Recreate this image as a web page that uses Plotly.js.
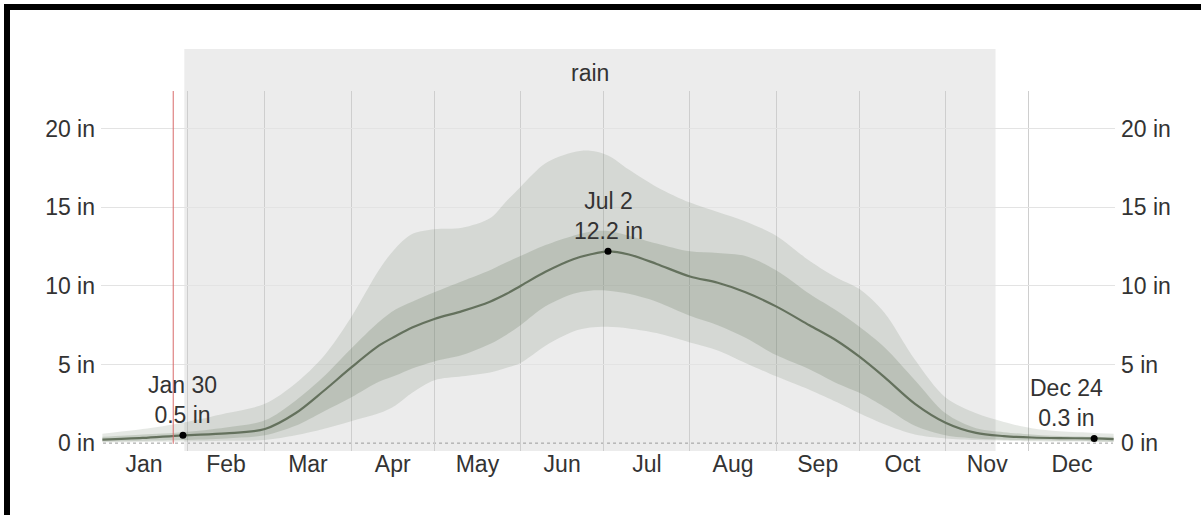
<!DOCTYPE html>
<html>
<head>
<meta charset="utf-8">
<script src="https://cdn.plot.ly/plotly-3.0.1.min.js"></script>
<style>
  html, body { margin: 0; padding: 0; background: #fff; }
  #wrap { position: relative; width: 1201px; height: 515px; overflow: hidden; }
  #chart { width: 1201px; height: 515px; }
  #frame { position: absolute; left: 4px; top: 4px; width: 1197px; height: 511px;
           border-top: 6px solid #000; border-left: 6px solid #000; box-sizing: border-box; pointer-events: none; }
</style>
</head>
<body>
<div id="wrap"><div id="chart"></div><div id="frame"></div></div>
<script>
// Day of year (Jan 1 = 0)
const days = [0.5, 15, 29.5, 45, 59, 70, 80, 90, 100, 106, 112, 120, 130, 140, 146, 151, 160, 170, 176, 182.5,
              190, 200, 212, 222, 232, 243, 255, 265, 273, 282, 293, 304, 315, 325, 335, 345, 357.5, 364.5];
// Average 31-day rainfall (inches)
const meanRain = [0.22, 0.33, 0.5, 0.62, 0.9, 1.9, 3.3, 4.8, 6.2, 6.8, 7.35, 7.9, 8.4, 9.0, 9.5, 10.0, 10.9, 11.7, 12.0, 12.2,
                  12.0, 11.4, 10.6, 10.2, 9.6, 8.7, 7.5, 6.5, 5.5, 4.2, 2.5, 1.3, 0.65, 0.45, 0.36, 0.32, 0.3, 0.25];
const p75 = [0.4, 0.55, 0.7, 1.0, 1.45, 2.7, 4.2, 6.0, 7.7, 8.5, 9.0, 9.6, 10.3, 11.0, 11.5, 11.9, 12.6, 13.2, 13.45, 13.5,
             13.2, 12.7, 12.2, 12.1, 11.9, 11.0, 9.5, 8.4, 7.4, 6.1, 4.0, 1.9, 0.95, 0.7, 0.55, 0.45, 0.4, 0.4];
const p25 = [0.1, 0.15, 0.2, 0.3, 0.5, 1.1, 2.0, 2.9, 3.9, 4.3, 4.75, 5.2, 5.6, 6.3, 6.9, 7.5, 8.7, 9.5, 9.7, 9.7,
             9.5, 9.0, 8.1, 7.5, 6.7, 5.6, 4.7, 3.8, 3.2, 2.3, 1.1, 0.5, 0.3, 0.22, 0.18, 0.15, 0.12, 0.1];
const p90 = [0.6, 0.9, 1.3, 1.9, 2.5, 3.8, 5.5, 8.0, 11.0, 12.4, 13.3, 13.6, 13.7, 14.3, 15.4, 16.3, 17.8, 18.5, 18.6, 18.3,
             17.4, 16.3, 15.3, 14.7, 14.1, 13.2, 11.6, 10.5, 9.8, 8.3, 5.3, 2.9, 1.9, 1.35, 0.95, 0.75, 0.65, 0.6];
const p10 = [0.05, 0.07, 0.1, 0.15, 0.2, 0.5, 0.9, 1.4, 1.9, 2.4, 3.2, 4.0, 4.25, 4.5, 4.8, 5.1, 6.2, 7.1, 7.35, 7.4,
             7.3, 7.0, 6.4, 5.9, 5.1, 4.25, 3.4, 2.6, 1.9, 1.2, 0.55, 0.3, 0.2, 0.15, 0.12, 0.1, 0.09, 0.08];

// Highlighted points
const markDays = [29.5, 182.5, 357.5];
const markVals = [0.5, 12.2, 0.3];
const markLabels = ['Jan 30<br>0.5 in', 'Jul 2<br>12.2 in', 'Dec 24<br>0.3 in'];

// Axis ticks
const monthStarts = [31, 59, 90, 120, 151, 181, 212, 243, 273, 304, 334];
const monthMids = [15.5, 45, 74.5, 105, 135.5, 166, 196.5, 227.5, 258, 288.5, 319, 349.5];
const monthNames = ['Jan', 'Feb', 'Mar', 'Apr', 'May', 'Jun', 'Jul', 'Aug', 'Sep', 'Oct', 'Nov', 'Dec'];
const yTicks = [0, 5, 10, 15, 20];
const yTickText = ['0 in', '5 in', '10 in', '15 in', '20 in'];

// Rainy season and today marker
const rainSeason = [30, 322];
const seasonLabel = 'rain';
const todayDay = 26;

const FONT = '"Liberation Sans", Arial, sans-serif';
const TXT = '#333333';
const outerFill = 'rgba(95,112,85,0.16)';
const innerFill = 'rgba(95,112,85,0.22)';
const sm = 0.9;

const traces = [
  {x: days, y: p10, mode: 'lines', line: {width: 0, shape: 'spline', smoothing: sm}, hoverinfo: 'skip', showlegend: false},
  {x: days, y: p90, mode: 'lines', fill: 'tonexty', fillcolor: outerFill, line: {width: 0, shape: 'spline', smoothing: sm}, hoverinfo: 'skip', showlegend: false},
  {x: days, y: p25, mode: 'lines', line: {width: 0, shape: 'spline', smoothing: sm}, hoverinfo: 'skip', showlegend: false},
  {x: days, y: p75, mode: 'lines', fill: 'tonexty', fillcolor: innerFill, line: {width: 0, shape: 'spline', smoothing: sm}, hoverinfo: 'skip', showlegend: false},
  {x: days, y: meanRain, mode: 'lines', line: {color: '#64715d', width: 2.2, shape: 'spline', smoothing: sm}, showlegend: false},
  {x: markDays, y: markVals, yaxis: 'y2', mode: 'markers', marker: {color: '#000', size: 7}, showlegend: false}
];

const annotations = markDays.map((d, i) => ({
  x: d, y: markVals[i], xref: 'x', yref: 'y', text: markLabels[i], showarrow: false,
  xanchor: 'center', yanchor: 'bottom', yshift: 5, xshift: i === 2 ? -28 : 0,
  font: {family: FONT, size: 23, color: TXT}
}));
annotations.push({
  x: (rainSeason[0] + rainSeason[1]) / 2, y: 1.05, xref: 'x', yref: 'paper', text: seasonLabel,
  showarrow: false, xanchor: 'center', yanchor: 'middle', font: {family: FONT, size: 23, color: TXT}
});

const shapes = [
  {type: 'rect', xref: 'x', yref: 'paper', x0: rainSeason[0], x1: rainSeason[1], y0: 0, y1: 1.117,
   fillcolor: '#ececec', line: {width: 0}, layer: 'below'},
  {type: 'line', xref: 'paper', yref: 'y', x0: 0.002, x1: 0.998, y0: 0, y1: 0,
   line: {color: '#9a9a9a', width: 1, dash: 'dot'}, layer: 'below'},
  {type: 'line', xref: 'x', yref: 'paper', x0: todayDay, x1: todayDay, y0: 0.02, y1: 1,
   line: {color: '#d86a6a', width: 1}, layer: 'above'}
];

const yCommon = {
  range: [-0.5, 22.4], tickmode: 'array', tickvals: yTicks, ticktext: yTickText,
  ticks: '', tickfont: {family: FONT, size: 23, color: TXT}, fixedrange: true, ticklabelstandoff: 5
};

const layout = {
  width: 1201, height: 515,
  margin: {l: 101, r: 86, t: 91, b: 64},
  paper_bgcolor: '#ffffff', plot_bgcolor: 'rgba(0,0,0,0)',
  showlegend: false,
  xaxis: {
    range: [0, 365], tickmode: 'array', tickvals: monthMids, ticktext: monthNames,
    ticks: '', showgrid: false, zeroline: false, showline: false, ticklabelstandoff: -3,
    tickfont: {family: FONT, size: 23, color: TXT},
    minor: {tickmode: 'array', tickvals: monthStarts, showgrid: true, gridcolor: '#cecece', gridwidth: 1, ticks: ''}
  },
  yaxis: Object.assign({}, yCommon, {
    side: 'left', showgrid: true, gridcolor: '#e3e3e3', gridwidth: 1,
    zeroline: true, zerolinecolor: 'rgba(0,0,0,0)', showline: false
  }),
  yaxis2: Object.assign({}, yCommon, {
    overlaying: 'y', side: 'right', showgrid: false, zeroline: false, showline: false
  }),
  shapes: shapes,
  annotations: annotations
};

Plotly.newPlot('chart', traces, layout, {displayModeBar: false, staticPlot: true});
</script>
</body>
</html>
